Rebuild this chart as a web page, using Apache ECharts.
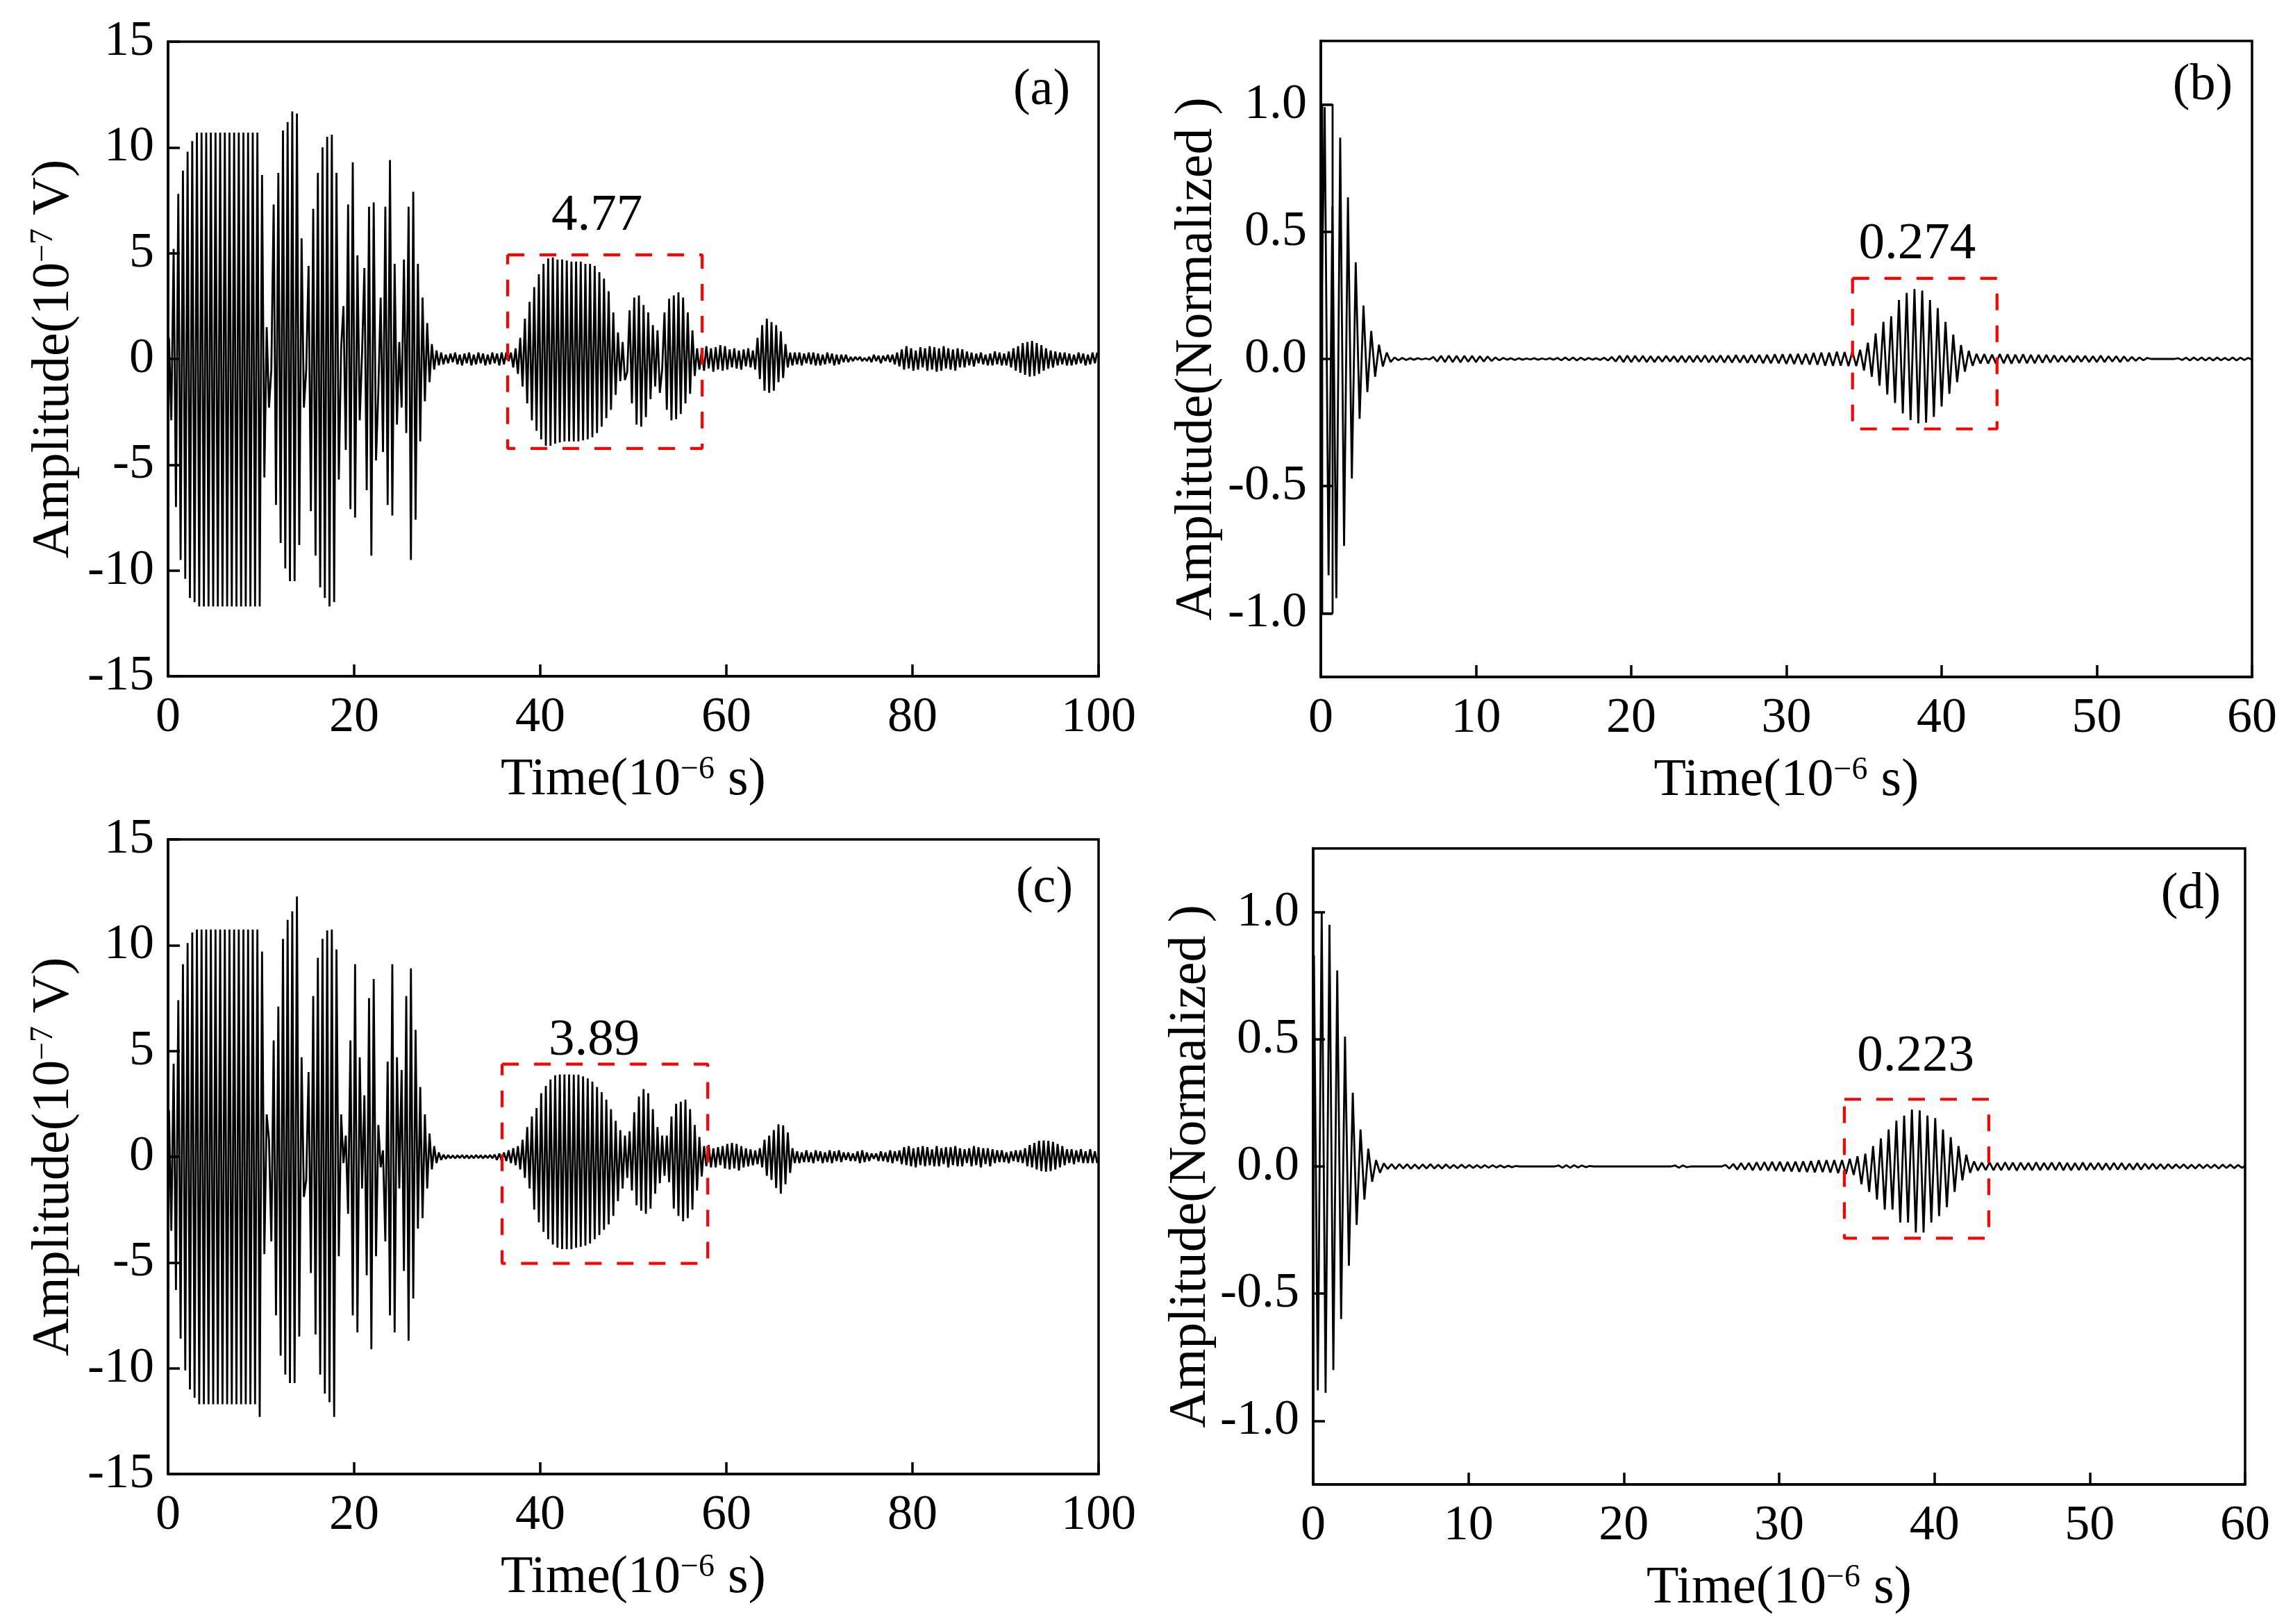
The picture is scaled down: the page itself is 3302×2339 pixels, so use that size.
<!DOCTYPE html>
<html>
<head>
<meta charset="utf-8">
<script src="https://cdn.jsdelivr.net/npm/echarts@6/dist/echarts.min.js"></script>
<style>
html, body { margin: 0; padding: 0; background: #fff; }
#chart_container { width: 3302px; height: 2339px; }
</style>
</head>
<body>
<div id="chart_container"></div>
<script>
// four waveform panels
// every trace is sampled on a half-period grid (0.25 us)

var STEP_US = 0.25;
var FONT = 'Liberation Serif';

// (a) raw signal, 10^-7 V, first sample at 0.1 us
var aStart = 0.1;
var aValues = [
  1.0, -2.9, 5.2, -7.0, 7.8, -9.5, 8.9, -10.4, 9.8, -11.3, 10.3, -11.5,
  10.7, -11.7, 10.7, -11.7, 10.7, -11.7, 10.7, -11.7, 10.7, -11.7, 10.7, -11.7, 10.7, -11.7,
  10.7, -11.7, 10.7, -11.7, 10.7, -11.7, 10.7, -11.7, 10.7, -11.7, 10.7, -11.7, 10.7, -11.7,
  8.7, -5.6, 1.5, -2.3, -0.5, 7.3, -6.9, 8.8, -8.7, 10.8, -9.9, 11.2, -10.5, 11.7, -10.5, 11.6, -8.8, 5.7, -2.3, -0.5,
  4.4, -7.2, 7.1, -9.3, 8.8, -10.8, 10.0, -11.3, 10.5, -11.7, 10.6, -11.5, 8.8, -5.7, 0.5, 2.5, -4.3, 7.3, -7.1, 9.3,
  -7.5, 4.9, -2.9, 0.3, 4.3, -6.2, 7.2, -9.3, 7.4, -4.8, -1.5, 2.9, -4.4, 7.2, -6.9, 9.4, -7.4, 4.5, -3.1, 0.8,
  -2.3, 4.7, -3.5, 7.2, -9.5, 7.9, -7.6, 4.5, -3.9, 2.9, -2.0, 1.7, -1.1, 0.7, -0.5, 0.4, -0.3, 0.3, -0.25, 0.2,
  -0.2, 0.25, -0.15, 0.3, -0.25, 0.2, -0.3, 0.25, -0.2, 0.3, -0.3, 0.2, -0.25, 0.3, -0.2, 0.25, -0.3, 0.2, -0.25, 0.3, -0.2, 0.25, -0.3, 0.3, -0.25, 0.3,
  -0.1, 0.3, -0.4, 0.5, -0.7, 1.0, -1.3, 1.9, -2.1, 2.7, -2.9, 3.4, -3.4, 4.0, -3.8, 4.5, -4.1, 4.75, -4.1, 4.8,
  -4.0, 4.7, -3.95, 4.7, -3.9, 4.65, -3.9, 4.6, -3.9, 4.6, -3.9, 4.6, -3.85, 4.5, -3.8, 4.5, -3.7, 4.4, -3.5, 4.1,
  -3.2, 3.8, -2.8, 3.2, -2.4, 2.2, -1.7, 1.25, -1.05, 0.8, -1.0, -0.6, 2.3, -2.1, 2.9, -3.1, 3.0, -3.2, 2.55, -2.75,
  2.2, -1.9, 1.6, -1.3, 1.35, -1.6, -0.5, 2.2, -2.4, 2.85, -2.9, 3.0, -2.85, 3.15, -2.6, 2.9, -2.1, 2.2, -1.65, 1.35, -0.8,
  0.5, -0.5, 0.4, -0.55, 0.6, -0.45, 0.5, -0.6, 0.55, -0.5, 0.65, -0.55, 0.6, -0.5, 0.45, -0.4, 0.5, -0.45, 0.4, -0.5, 0.45, -0.35, 0.5, -0.4,
  0.4, -0.5, 1.0, -0.95, 1.6, -1.5, 1.9, -1.6, 1.75, -1.5, 1.6, -1.1, 1.3, -0.9, 0.7, -0.4, 0.3,
  -0.3, 0.3, -0.25, 0.3, -0.3, 0.25, -0.2, 0.3, -0.25, 0.3, -0.3, 0.25, -0.3, 0.2, -0.25, 0.3, -0.2, 0.25, -0.3, 0.2, -0.25, 0.2, -0.15, 0.2, -0.15,
  0.1, -0.1, 0.1, -0.05, 0.1, -0.1, 0.05, -0.1, 0.1, -0.15, 0.2, -0.1, 0.15, -0.2, 0.15, -0.1, 0.2, -0.15, 0.2, -0.25,
  0.3, -0.35, 0.45, -0.5, 0.6, -0.45, 0.5, -0.55, 0.4, -0.5, 0.55, -0.4, 0.5, -0.55, 0.6, -0.5, 0.55, -0.6, 0.5, -0.55, 0.6, -0.45, 0.5, -0.5, 0.45, -0.55, 0.5, -0.4, 0.45, -0.4, 0.35,
  -0.3, 0.3, -0.35, 0.25, -0.2, 0.3, -0.25, 0.2, -0.3, 0.25, -0.3, 0.35, -0.25, 0.3, -0.3, 0.25, -0.3, 0.35, -0.4, 0.5,
  -0.55, 0.6, -0.65, 0.75, -0.75, 0.8, -0.83, 0.85, -0.8, 0.75, -0.7, 0.65, -0.55, 0.5, -0.45, 0.4, -0.4, 0.35, -0.3,
  0.3, -0.25, 0.3, -0.3, 0.25, -0.3, 0.2, -0.25, 0.3, -0.2, 0.25, -0.3, 0.2, -0.25, 0.3, -0.2, 0.3
];

// (b) normalized, first sample at 0 us
var bStart = 0;
var bValues = [
  0, 0.99, -0.85, 0.6, -0.94, 0.87, -0.735, 0.635, -0.47, 0.38, -0.235, 0.21, -0.13, 0.11, -0.07, 0.056, -0.03, 0.025, -0.012,
  0.006, -0.005, 0.004, -0.004, 0.003, -0.003, 0.003, -0.002, 0.002, -0.002,
  0.008, -0.01, 0.012, -0.012, 0.013, -0.012, 0.012, -0.013, 0.012, -0.011, 0.012, -0.012, 0.011, -0.01, 0.01, -0.008, 0.006, -0.005,
  0.004, -0.003, 0.003, -0.004, 0.003, -0.003, 0.002, -0.002, 0.003, -0.003, 0.002, -0.002, 0.003, -0.003,
  0.004, -0.005, 0.006, -0.005, 0.006, -0.006, 0.005, -0.004, 0.004, -0.003, 0.003, -0.004, 0.005, -0.006,
  0.008, -0.01, 0.012, -0.012, 0.013, -0.012, 0.012, -0.011, 0.012, -0.012, 0.011, -0.012, 0.01, -0.011, 0.012, -0.01, 0.011, -0.012,
  0.012, -0.013, 0.012, -0.012, 0.013, -0.012, 0.014, -0.013, 0.012, -0.013, 0.014, -0.014, 0.013, -0.014, 0.015, -0.014, 0.014,
  -0.015, 0.016, -0.015, 0.016, -0.017, 0.016, -0.017, 0.018, -0.017, 0.018, -0.019, 0.019, -0.02, 0.02, -0.021, 0.02,
  -0.022, 0.024, -0.023, 0.025, -0.026, 0.025, -0.027, 0.028, -0.026, 0.027, -0.028, 0.03, -0.028,
  0.036, -0.045, 0.064, -0.07, 0.10, -0.105, 0.146, -0.14, 0.168, -0.173, 0.232, -0.214, 0.26, -0.24, 0.275,
  -0.253, 0.269, -0.25, 0.232, -0.228, 0.2, -0.187, 0.146, -0.137, 0.096, -0.091, 0.055, -0.05, 0.032, -0.027,
  0.02, -0.018, 0.019, -0.018, 0.017, -0.018, 0.019, -0.017, 0.018, -0.018, 0.017, -0.016, 0.018, -0.017, 0.016, -0.017, 0.016, -0.015, 0.016, -0.014, 0.014,
  -0.012, 0.012, -0.011, 0.012, -0.013, 0.012, -0.011, 0.012, -0.012, 0.011, -0.012, 0.013, -0.012, 0.011, -0.01, 0.011, -0.012, 0.01, -0.009, 0.008, -0.007, 0.006, -0.005, 0.004,
  0, 0, 0, 0, 0, 0, 0,
  0.003, -0.004, 0.005, -0.006, 0.006, -0.005, 0.006, -0.006, 0.005, -0.006, 0.006, -0.005, 0.004, -0.005, 0.006, -0.006, 0.005, -0.004, 0.004, -0.003
];
// square excitation drawn at the start of (b)
var bPulseT = [0.09, 0.09, 0.76, 0.76, 0.09];
var bPulseV = [-1.0, 1.0, 1.0, -1.0, -1.0];

// (c) raw signal, 10^-7 V, first sample at 0.1 us
var cStart = 0.1;
var cValues = [
  2.2, -3.5, 4.4, -6.3, 7.4, -8.6, 9.1, -10.1, 10.1, -11.0, 10.6, -11.4,
  10.74, -11.7, 10.74, -11.7, 10.74, -11.7, 10.74, -11.7, 10.74, -11.7, 10.74, -11.7, 10.74, -11.7,
  10.74, -11.7, 10.74, -11.7, 10.74, -11.7, 10.74, -11.7, 10.74, -11.7, 10.74, -11.7, 10.74,
  -12.3, 9.7, -4.6, 2.0, 0.8, -4.0, 5.5, -7.5, 7.1, -9.4, 10.3, -10.3, 11.2, -10.7, 11.6, -10.7, 12.3, -8.5, 4.7, -1.9, -1.1,
  4.0, -5.5, 7.6, -8.4, 9.4, -10.3, 10.3, -11.2, 10.7, -11.6, 10.74, -12.3, 9.8, -4.7, 2.0, -0.3, 1.0, -2.7, 5.5, -7.5,
  9.1, -8.3, 4.7, -1.5, 2.9, -5.6, 7.5, -9.1, 8.4, -4.7, 1.5, -0.5, 0.3, -4.0, 4.5, -7.5, 9.1, -8.3, 4.7, -1.5,
  4.1, -5.4, 7.6, -8.7, 8.9, -6.7, 6.0, -3.4, 3.3, -2.9, 2.0, -1.5, 1.1, -0.6, 0.5, -0.3, 0.2, -0.15, 0.1, -0.1,
  0.08, -0.07, 0.06, -0.08, 0.07, -0.06, 0.08, -0.07, 0.07, -0.08, 0.06, -0.07, 0.08, -0.06, 0.07, -0.08, 0.07, -0.06, 0.08, -0.07, 0.1, -0.15, 0.15, -0.2,
  0.2, -0.2, 0.3, -0.3, 0.4, -0.4, 0.5, -0.6,
  0.8, -1.0, 1.4, -1.5, 1.9, -2.5, 2.3, -3.1, 3.0, -3.55, 3.35, -3.9, 3.65, -4.15, 3.85, -4.3, 3.89, -4.37, 3.89, -4.37,
  3.89, -4.37, 3.88, -4.3, 3.88, -4.26, 3.8, -4.2, 3.7, -4.1, 3.55, -3.9, 3.3, -3.7, 3.05, -3.45, 2.7, -3.2, 2.25, -2.8, 1.7, -2.1, 1.25, -1.5, 1.0, -1.0,
  1.2, -1.6, 2.1, -2.3, 2.85, -2.55, 3.2, -2.7, 3.0, -2.45, 2.25, -1.75, 1.4, -1.25, 1.0, -0.9, 1.0, -1.2,
  1.9, -2.45, 2.5, -2.8, 2.6, -3.05, 2.7, -2.9, 2.25, -2.5, 1.5, -1.6, 0.93, -0.93,
  0.5, -0.45, 0.55, -0.5, 0.4, -0.5, 0.45, -0.4, 0.5, -0.55, 0.6, -0.6, 0.65, -0.55, 0.6, -0.65, 0.5, -0.5, 0.4, -0.45, 0.35, -0.4, 0.3, -0.35, 0.4, -0.5,
  0.8, -0.9, 1.0, -1.1, 1.26, -1.48, 1.53, -1.75, 1.48, -1.3, 1.15, -0.77, 0.4, -0.3,
  0.25, -0.3, 0.2, -0.25, 0.3, -0.25, 0.2, -0.3, 0.3, -0.2, 0.25, -0.3, 0.2, -0.25, 0.3, -0.3, 0.25, -0.2, 0.3, -0.25, 0.2, -0.15, 0.2,
  -0.2, 0.15, -0.2, 0.25, -0.3, 0.3, -0.25, 0.2, -0.2, 0.15, -0.1, 0.15, -0.2, 0.25, -0.2, 0.2, -0.25, 0.3, -0.3, 0.25, -0.2, 0.3, -0.35,
  0.45, -0.4, 0.5, -0.45, 0.4, -0.5, 0.45, -0.4, 0.5, -0.45, 0.45, -0.4, 0.35, -0.45, 0.5, -0.45, 0.4, -0.35, 0.45, -0.5, 0.45, -0.4,
  0.5, -0.45, 0.4, -0.45, 0.35, -0.3, 0.4, -0.45, 0.5, -0.4, 0.45, -0.5, 0.4, -0.35, 0.4, -0.45, 0.35, -0.3, 0.3, -0.25, 0.3,
  -0.25, 0.2, -0.3, 0.25, -0.2, 0.3, -0.25, 0.3, -0.3,
  0.4, -0.45, 0.55, -0.5, 0.65, -0.6, 0.75, -0.68, 0.77, -0.71, 0.75, -0.68, 0.7, -0.6, 0.6, -0.5, 0.5, -0.4,
  0.35, -0.3, 0.35, -0.35, 0.3, -0.25, 0.35, -0.3, 0.25, -0.3, 0.35, -0.3, 0.25, -0.3
];

// (d) normalized, first sample at 0.05 us
var dStart = 0.05;
var dValues = [
  0.83, -0.88, 1.0, -0.89, 0.95, -0.8, 0.77, -0.6, 0.51, -0.39, 0.29, -0.23, 0.145, -0.13, 0.07, -0.06, 0.025, -0.025,
  0.012, -0.01, 0.009, -0.01, 0.009, -0.008, 0.009, -0.009, 0.008, -0.009, 0.008, -0.008, 0.009, -0.008, 0.007, -0.008, 0.008, -0.007,
  0.006, -0.007, 0.007, -0.006, 0.006, -0.006, 0.005, -0.006, 0.005, -0.005, 0.005, -0.004, 0.004, -0.004, 0.003, -0.003, 0.002,
  0, 0, 0, 0, 0, 0, 0, 0, 0, 0,
  0.004, -0.005, 0.005, -0.005, 0.005, -0.004, 0.004, -0.003, 0.002,
  0, 0, 0, 0, 0, 0, 0, 0, 0, 0, 0, 0, 0, 0, 0, 0, 0, 0, 0, 0, 0,
  0.004, -0.005, 0.004, -0.003,
  0, 0, 0, 0, 0, 0, 0, 0, 0,
  0.006, -0.008, 0.01, -0.012, 0.013, -0.012, 0.014, -0.015, 0.016, -0.015, 0.017, -0.016, 0.018, -0.017, 0.018, -0.019,
  0.018, -0.02, 0.019, -0.021, 0.02, -0.022, 0.021, -0.023, 0.024, -0.022, 0.025, -0.024, 0.025, -0.026, 0.025,
  -0.03, 0.03, -0.033, 0.04, -0.07, 0.05, -0.1, 0.08, -0.13, 0.11, -0.17, 0.145, -0.17, 0.18, -0.22, 0.2, -0.22,
  0.224, -0.26, 0.22, -0.26, 0.2, -0.22, 0.19, -0.195, 0.145, -0.16, 0.115, -0.1, 0.08, -0.055, 0.046, -0.025, 0.02,
  -0.016, 0.015, -0.014, 0.016, -0.015, 0.014, -0.015, 0.016, -0.014, 0.015, -0.016, 0.015, -0.013, 0.014, -0.015, 0.016, -0.015,
  0.014, -0.013, 0.015, -0.014, 0.016, -0.015, 0.014, -0.015, 0.013, -0.014, 0.015, -0.014, 0.013, -0.012, 0.014, -0.013,
  0.012, -0.013, 0.014, -0.012, 0.013, -0.012, 0.011, -0.012, 0.013, -0.012, 0.011, -0.01, 0.011, -0.01, 0.009, -0.01, 0.009,
  -0.008, 0.008, -0.007, 0.008, -0.008, 0.007, -0.008, 0.008, -0.007, 0.007, -0.006, 0.007, -0.008, 0.007, -0.006, 0.007, -0.007, 0.006, -0.006, 0.005
];

// dashed boxes: [tMin, tMax, yMin, yMax]
var boxA = [36.5, 57.4, -4.23, 4.92];
var boxB = [34.26, 43.57, -0.275, 0.317];
var boxC = [35.9, 58.0, -5.04, 4.38];
var boxD = [34.2, 43.5, -0.282, 0.264];

// peak annotations
var peakText = ['4.77', '0.274', '3.89', '0.223'];
var peakPos = [[46.1, 6.75], [38.43, 0.45], [45.8, 5.48], [38.79, 0.43]];

var panelTags = ['(a)', '(b)', '(c)', '(d)'];
var normTicks = [-1.0, -0.5, 0.0, 0.5, 1.0];


function toPairs(start, values) {
    return values.map(function (v, i) {
        return [+(start + i * STEP_US).toFixed(3), v];
    });
}

function boxPath(b) {
    return [[b[0], b[3]], [b[1], b[3]], [b[1], b[2]], [b[0], b[2]], [b[0], b[3]]];
}

var chartDom = document.getElementById('chart_container');
var myChart = echarts.init(chartDom, null, { renderer: 'canvas' });

var axisLineStyle = { color: '#000', width: 3.5 };
var labelStyle = { color: '#000', fontFamily: FONT, fontSize: 72 };
var nameStyle = {
    color: '#000', fontFamily: FONT, fontSize: 76,
    rich: { sup: { color: '#000', fontFamily: FONT, fontSize: 46, verticalAlign: 'top' } }
};

function xAxisFor(idx, max, step) {
    return {
        type: 'value', gridIndex: idx, min: 0, max: max, interval: step,
        axisLine: { show: true, onZero: false, lineStyle: axisLineStyle },
        axisTick: { show: true, inside: true, length: 17, lineStyle: axisLineStyle },
        axisLabel: Object.assign({ margin: 24 }, labelStyle),
        splitLine: { show: false },
        name: 'Time(10{sup|\u22126} s)', nameLocation: 'middle', nameGap: 112,
        nameTextStyle: nameStyle
    };
}

function yAxisRaw(idx) {
    return {
        type: 'value', gridIndex: idx, min: -15, max: 15, interval: 5,
        axisLine: { show: true, onZero: false, lineStyle: axisLineStyle },
        axisTick: { show: true, inside: true, length: 17, lineStyle: axisLineStyle },
        axisLabel: Object.assign({ margin: 20 }, labelStyle),
        splitLine: { show: false },
        name: 'Amplitude(10{sup|\u22127} V)', nameLocation: 'middle', nameGap: 126, nameRotate: 90,
        nameTextStyle: nameStyle
    };
}

function yAxisNorm(idx, gap) {
    return {
        type: 'value', gridIndex: idx, min: -1.25, max: 1.25,
        axisLine: { show: true, onZero: false, lineStyle: axisLineStyle },
        axisTick: { show: true, inside: true, length: 17, lineStyle: axisLineStyle, customValues: normTicks },
        axisLabel: Object.assign({
            margin: 20, customValues: normTicks,
            formatter: function (v) { return Number(v).toFixed(1); }
        }, labelStyle),
        splitLine: { show: false },
        name: 'Amplitude(Normalized )', nameLocation: 'middle', nameGap: gap, nameRotate: 90,
        nameTextStyle: nameStyle
    };
}

function traceSeries(idx, data) {
    return {
        type: 'line', xAxisIndex: idx, yAxisIndex: idx, data: data,
        symbol: 'none', showSymbol: false, smooth: false, silent: true,
        lineStyle: { color: '#000', width: 2.8 }, z: 2
    };
}

function boxSeries(idx, b) {
    return {
        type: 'line', xAxisIndex: idx, yAxisIndex: idx, data: boxPath(b),
        symbol: 'none', silent: true,
        lineStyle: { color: '#ff0000', width: 4.2, type: [24, 22] }, z: 3
    };
}

function peakSeries(idx) {
    return {
        type: 'scatter', xAxisIndex: idx, yAxisIndex: idx,
        data: [peakPos[idx]], symbolSize: 0, silent: true, z: 4,
        itemStyle: { color: '#000' },
        label: {
            show: true, position: 'inside', color: '#000', fontFamily: FONT, fontSize: 75,
            textBorderWidth: 0, textShadowBlur: 0, opacity: 1,
            formatter: function () { return peakText[idx]; }
        }
    };
}

var gridBox = { show: true, borderColor: '#000', borderWidth: 3.5, backgroundColor: 'transparent' };
var tagPos = [[1500, 131], [3172, 124], [1504, 1280], [3155, 1289]];

var option = {
    animation: false,
    backgroundColor: '#fff',
    grid: [
        Object.assign({ left: 242, top: 60, width: 1340, height: 914 }, gridBox),
        Object.assign({ left: 1902, top: 59, width: 1341, height: 916 }, gridBox),
        Object.assign({ left: 242, top: 1209, width: 1340, height: 914 }, gridBox),
        Object.assign({ left: 1891, top: 1222, width: 1342, height: 916 }, gridBox)
    ],
    xAxis: [
        xAxisFor(0, 100, 20),
        xAxisFor(1, 60, 10),
        xAxisFor(2, 100, 20),
        xAxisFor(3, 60, 10)
    ],
    yAxis: [
        yAxisRaw(0),
        yAxisNorm(1, 140),
        yAxisRaw(2),
        yAxisNorm(3, 130)
    ],
    graphic: panelTags.map(function (t, i) {
        return {
            type: 'text', x: tagPos[i][0], y: tagPos[i][1], silent: true,
            style: { text: t, fill: '#000', fontFamily: FONT, fontSize: 74, align: 'center', verticalAlign: 'middle' }
        };
    }),
    series: [
        traceSeries(0, toPairs(aStart, aValues)),
        traceSeries(1, toPairs(bStart, bValues)),
        traceSeries(1, bPulseT.map(function (t, i) { return [t, bPulseV[i]]; })),
        traceSeries(2, toPairs(cStart, cValues)),
        traceSeries(3, toPairs(dStart, dValues)),
        boxSeries(0, boxA),
        boxSeries(1, boxB),
        boxSeries(2, boxC),
        boxSeries(3, boxD),
        peakSeries(0),
        peakSeries(1),
        peakSeries(2),
        peakSeries(3)
    ]
};

myChart.setOption(option);
</script>
</body>
</html>
